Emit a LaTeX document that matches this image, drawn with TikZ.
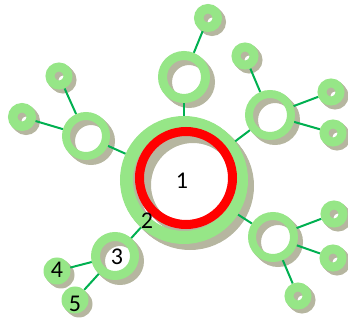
\documentclass[tikz,border=0pt]{standalone}
\usepackage{fontspec}
\setmainfont{Carlito}
\definecolor{ringgreen}{RGB}{150,230,135}
\definecolor{linegreen}{RGB}{0,176,80}
\definecolor{shadowc}{RGB}{182,182,160}
\definecolor{ringred}{RGB}{255,0,0}
\pgfdeclarelayer{shadow}
\pgfdeclarelayer{bg}
\pgfsetlayers{shadow,bg,main}
\newcommand\myring[7]{%
  \pgfmathsetmacro\rrad{(#4+#5)/2}%
  \pgfmathsetmacro\rlw{#4-#5}%
  \begin{pgfonlayer}{shadow}
    \foreach \t in {1,...,#6}{\draw[shadowc, line width=\rlw pt] (#2+\t,#3+\t) circle[radius=\rrad pt];}
  \end{pgfonlayer}
  \node[circle, draw=#7, line width=\rlw pt, minimum size=2*\rrad pt, inner sep=0pt] (#1) at (#2,#3) {};
}
\newcommand\mydisc[5]{%
  \begin{pgfonlayer}{shadow}
    \foreach \t in {1,...,#5}{\fill[shadowc] (#2+\t,#3+\t) circle[radius=#4 pt];}
  \end{pgfonlayer}
  \node[circle, fill=ringgreen, minimum size=2*#4 pt, inner sep=0pt] (#1) at (#2,#3) {};
}
\tikzset{conn/.style={draw=linegreen, line width=2pt},
  lbl/.style={font=\fontsize{24}{28}\selectfont, inner sep=0pt}}
\begin{document}
\begin{tikzpicture}[x=1pt,y=-1pt]
\useasboundingbox (0,0) rectangle (348,320);
% central
\myring{G}{184}{180}{64}{51}{6}{ringgreen}
\myring{R}{186}{178}{51}{42}{7}{ringred}
% mid rings
\myring{T}{184}{77}{26}{17}{5}{ringgreen}
\myring{L}{86}{136}{24}{16}{5}{ringgreen}
\myring{RU}{270}{115}{25}{17}{5}{ringgreen}
\myring{RD}{273}{237}{25}{17}{5}{ringgreen}
\myring{N3}{115}{256}{24}{15}{5}{ringgreen}
% small rings
\myring{T1}{208}{18}{14}{4.5}{4}{ringgreen}
\myring{L1}{22}{117}{14}{4.5}{4}{ringgreen}
\myring{L2}{59}{76}{13.5}{4.5}{4}{ringgreen}
\myring{RU1}{245}{56}{13.5}{4.5}{4}{ringgreen}
\myring{RU2}{331}{92}{13.5}{4.5}{4}{ringgreen}
\myring{RU3}{333}{133}{13.5}{4.5}{4}{ringgreen}
\myring{RD1}{334}{214}{13.5}{4.5}{4}{ringgreen}
\myring{RD2}{333}{258}{13.5}{4.5}{4}{ringgreen}
\myring{RD3}{298}{296}{13.5}{4.5}{4}{ringgreen}
% discs
\mydisc{N4}{57}{271}{13.5}{4}
\mydisc{N5}{75}{300}{13.5}{4}
% labels
\node[lbl] (l1) at (182,181) {1};
\node[lbl] (l2) at (147,221) {2};
\node[lbl] (l3) at (117,257) {3};
\node[lbl] (l4) at (57,270) {4};
\node[lbl] (l5) at (75,304) {5};
% connectors
\begin{pgfonlayer}{bg}
\draw[conn] (G) -- (T);
\draw[conn] (G) -- (L);
\draw[conn] (G) -- (RU);
\draw[conn] (G) -- (RD);
\draw[conn] (G) -- (N3);
\draw[conn] (T) -- (T1);
\draw[conn] (L) -- (L1);
\draw[conn] (L) -- (L2);
\draw[conn] (RU) -- (RU1);
\draw[conn] (RU) -- (RU2);
\draw[conn] (RU) -- (RU3);
\draw[conn] (RD) -- (RD1);
\draw[conn] (RD) -- (RD2);
\draw[conn] (RD) -- (RD3);
\draw[conn] (N3) -- (N4);
\draw[conn] (N3) -- (N5);
\end{pgfonlayer}
\end{tikzpicture}
\end{document}
